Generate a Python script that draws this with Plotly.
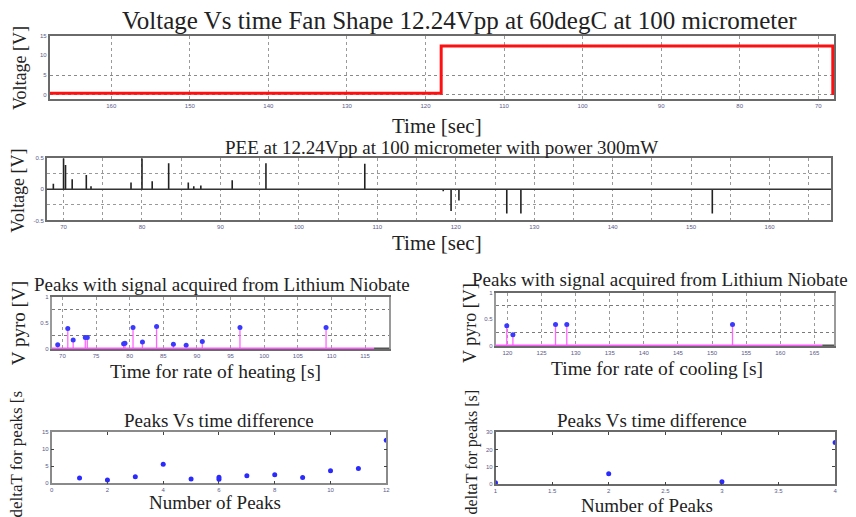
import plotly.graph_objects as go

# ---------------- data ----------------
# Panel 1: step signal (reversed time axis)
step_time = [167.8, 118.0, 118.0, 68.15, 68.15]
step_volt = [0.4, 0.4, 12.4, 12.4, 0.0]

# Panel 2: PEE spikes
pee_time = [68.7, 70.0, 70.25, 71.1, 72.9, 73.5, 78.6, 80.0, 81.3, 83.4, 85.9, 86.6, 87.5,
            91.5, 95.8, 108.4, 118.4, 119.4, 120.4, 126.5, 128.3, 152.7]
pee_volt = [0.09, 0.5, 0.39, 0.16, 0.23, 0.05, 0.11, 0.5, 0.13, 0.42, 0.11, 0.05, 0.06,
            0.145, 0.42, 0.41, -0.03, -0.35, -0.18, -0.39, -0.39, -0.39]

# Panel 3: heating peaks
heat_time = [69.3, 70.8, 71.6, 73.4, 73.7, 79.1, 79.3, 80.5, 81.9, 84.0, 86.5, 88.4, 90.8, 96.4, 109.2]
heat_volt = [0.08, 0.39, 0.17, 0.22, 0.22, 0.10, 0.11, 0.41, 0.13, 0.43, 0.09, 0.07, 0.14, 0.41, 0.41]

# Panel 4: cooling peaks
cool_time = [119.9, 120.8, 127.05, 128.7, 153.0]
cool_volt = [0.38, 0.21, 0.40, 0.40, 0.40]

# Panel 5: heating peaks vs time difference
heat_n = [1, 2, 3, 4, 5, 6, 6, 7, 8, 9, 10, 11, 12]
heat_dt = [1.55, 0.97, 1.94, 5.6, 1.26, 1.2, 1.75, 2.2, 2.5, 1.74, 3.7, 4.35, 12.6]

# Panel 6: cooling peaks vs time difference
cool_n = [1, 2, 3, 4]
cool_dt = [0.9, 6.1, 1.5, 23.9]

# tick labels
p1_ticks = [160, 150, 140, 130, 120, 110, 100, 90, 80, 70]
p2_ticks = [70, 80, 90, 100, 110, 120, 130, 140, 150, 160]
p3_ticks = [70, 75, 80, 85, 90, 95, 100, 105, 110, 115]
p4_ticks = [120, 125, 130, 135, 140, 145, 150, 155, 160, 165]
p6_ticks = [1, 1.5, 2, 2.5, 3, 3.5, 4]

# ---------------- figure ----------------
W, H = 856, 517
SERIF = "Liberation Serif"
TICKFONT = dict(family="Liberation Sans", size=6, color="#5a5a8a")
TXT = "#222222"

def dx(p):
    return p / W

def dy(p):
    return 1 - p / H

fig = go.Figure()

# panel 1
fig.add_trace(go.Scatter(x=step_time, y=step_volt, mode="lines",
                         line=dict(color="#ff1010", width=3), xaxis="x", yaxis="y"))

# panel 2 spikes
sx, sy = [], []
for t, v in zip(pee_time, pee_volt):
    sx += [t, t, None]
    sy += [0, v, None]
fig.add_trace(go.Scatter(x=sx, y=sy, mode="lines", line=dict(color="#222222", width=1.6),
                         xaxis="x2", yaxis="y2"))

# panel 3 stems
hx, hy = [], []
for t, v in zip(heat_time, heat_volt):
    hx += [t, t, None]
    hy += [0, v, None]
fig.add_trace(go.Scatter(x=hx, y=hy, mode="lines", line=dict(color="#ff66ff", width=1.3),
                         xaxis="x3", yaxis="y3"))
fig.add_trace(go.Scatter(x=heat_time, y=heat_volt, mode="markers",
                         marker=dict(color="#3a3aff", size=5), xaxis="x3", yaxis="y3"))

# panel 4 stems
cx, cy = [], []
for t, v in zip(cool_time, cool_volt):
    cx += [t, t, None]
    cy += [0, v, None]
fig.add_trace(go.Scatter(x=cx, y=cy, mode="lines", line=dict(color="#ff66ff", width=1.3),
                         xaxis="x4", yaxis="y4"))
fig.add_trace(go.Scatter(x=cool_time, y=cool_volt, mode="markers",
                         marker=dict(color="#3a3aff", size=5), xaxis="x4", yaxis="y4"))

# panel 5 and 6
fig.add_trace(go.Scatter(x=heat_n, y=heat_dt, mode="markers",
                         marker=dict(color="#2a2aff", size=5), xaxis="x5", yaxis="y5"))
fig.add_trace(go.Scatter(x=cool_n, y=cool_dt, mode="markers",
                         marker=dict(color="#2a2aff", size=5), xaxis="x6", yaxis="y6"))

grid = dict(showgrid=True, gridcolor="#9a9a9a", griddash="dot", gridwidth=1)
frame = dict(showline=True, linecolor="#6a6a6a", linewidth=1.5, mirror=True,
             ticks="", tickfont=TICKFONT, zeroline=False)

layout = dict(
    width=W, height=H, margin=dict(l=0, r=0, t=0, b=0),
    paper_bgcolor="white", plot_bgcolor="white", showlegend=False,
    # panel 1
    xaxis=dict(domain=[dx(48), dx(838)], anchor="y", range=[167.84, 67.98],
               tickvals=p1_ticks, ticktext=[str(v) for v in p1_ticks], **grid, **frame),
    yaxis=dict(domain=[dy(97), dy(33)], anchor="x", range=[-1, 15], tickvals=[0, 5, 10, 15],
               showgrid=False,
               minor=dict(tickvals=[0, 5], showgrid=True, gridcolor="#8a8a8a", griddash="dot"),
               **frame),
    # panel 2
    xaxis2=dict(domain=[dx(45), dx(835)], anchor="y2", range=[67.85, 167.85],
                tickvals=p2_ticks, ticktext=[str(v) for v in p2_ticks], **grid, **frame,
                minor=dict(dtick=5, showgrid=True, gridcolor="#9a9a9a", griddash="dot")),
    yaxis2=dict(domain=[dy(220), dy(157)], anchor="x2", range=[-0.5, 0.5],
                tickvals=[-0.5, 0, 0.5], ticktext=["-0.5", "0", "0.5"], showgrid=False,
                minor=dict(tickvals=[-0.25, 0.25], showgrid=True, gridcolor="#9a9a9a", griddash="dot"),
                showline=True, linecolor="#6a6a6a", linewidth=1.5, mirror=True,
                tickfont=TICKFONT),
    # panel 3
    xaxis3=dict(domain=[dx(50), dx(390)], anchor="y3", range=[68.4, 118.6],
                tickvals=p3_ticks, ticktext=[str(v) for v in p3_ticks], **grid, **frame),
    yaxis3=dict(domain=[dy(350), dy(297)], anchor="x3", range=[0, 1],
                tickvals=[0, 0.5, 1], ticktext=["0", "0.5", "1"], showgrid=False,
                minor=dict(tickvals=[0.25, 0.75], showgrid=True, gridcolor="#7a7a7a", griddash="dot"),
                showline=True, linecolor="#9a9a9a", linewidth=1.5, mirror=True,
                tickfont=TICKFONT, zeroline=False),
    # panel 4
    xaxis4=dict(domain=[dx(497), dx(838)], anchor="y4", range=[118.25, 167.9],
                tickvals=p4_ticks, ticktext=[str(v) for v in p4_ticks], **grid, **frame),
    yaxis4=dict(domain=[dy(347), dy(293)], anchor="x4", range=[0, 1],
                tickvals=[0, 0.5, 1], ticktext=["0", "0.5", "1"], showgrid=False,
                minor=dict(tickvals=[0.25, 0.75], showgrid=True, gridcolor="#7a7a7a", griddash="dot"),
                showline=True, linecolor="#9a9a9a", linewidth=1.5, mirror=True,
                tickfont=TICKFONT, zeroline=False),
    # panel 5
    xaxis5=dict(domain=[dx(50), dx(387)], anchor="y5", range=[0, 12], tickvals=list(range(0, 13, 2)),
                showgrid=False, showline=True, linecolor="#8a8a8a", linewidth=1.5, mirror="ticks",
                ticks="inside", ticklen=3, tickcolor="#444", tickfont=TICKFONT, zeroline=False),
    yaxis5=dict(domain=[dy(486), dy(434)], anchor="x5", range=[0, 15], tickvals=[0, 5, 10, 15],
                showgrid=False, showline=True, linecolor="#8a8a8a", linewidth=1.5, mirror="ticks",
                ticks="inside", ticklen=3, tickcolor="#444", tickfont=TICKFONT, zeroline=False),
    # panel 6
    xaxis6=dict(domain=[dx(497), dx(839)], anchor="y6", range=[1, 4], tickvals=p6_ticks,
                ticktext=[str(v) for v in p6_ticks],
                showgrid=False, showline=True, linecolor="#6a6a6a", linewidth=1.5, mirror="ticks",
                ticks="inside", ticklen=3, tickcolor="#444", tickfont=TICKFONT, zeroline=False),
    yaxis6=dict(domain=[dy(487), dy(434)], anchor="x6", range=[0, 30], tickvals=[0, 10, 20, 30],
                showgrid=False, showline=True, linecolor="#6a6a6a", linewidth=1.5, mirror="ticks",
                ticks="inside", ticklen=3, tickcolor="#444", tickfont=TICKFONT, zeroline=False),
)
fig.update_layout(**layout)

# baseline at zero for panel 2 and magenta baselines for panels 3/4
shapes = [
    dict(type="line", xref="x2 domain", yref="y2", x0=0, x1=1, y0=0, y1=0,
         line=dict(color="#333333", width=1.5)),
    dict(type="line", xref="x3 domain", yref="y3", x0=0, x1=0.955, y0=0, y1=0,
         line=dict(color="#ff55ff", width=3)),
    dict(type="line", xref="x3 domain", yref="y3", x0=0.955, x1=1, y0=0, y1=0,
         line=dict(color="#555555", width=3)),
    dict(type="line", xref="x4 domain", yref="y4", x0=0, x1=0.965, y0=0, y1=0,
         line=dict(color="#ff55ff", width=3)),
    dict(type="line", xref="x4 domain", yref="y4", x0=0.965, x1=1, y0=0, y1=0,
         line=dict(color="#555555", width=3)),
]
fig.update_layout(shapes=shapes)

def ann(text, x, y, size, angle=0):
    return dict(text=text, x=dx(x), y=dy(y), xref="paper", yref="paper", showarrow=False,
                font=dict(family=SERIF, size=size, color=TXT), textangle=angle,
                xanchor="center", yanchor="middle")

annotations = [
    ann("Voltage Vs time Fan Shape 12.24Vpp at 60degC at 100 micrometer", 461, 18, 25),
    ann("Voltage [V]", 18, 66, 18, -90),
    ann("Time [sec]", 438, 124, 21),
    ann("PEE at 12.24Vpp at 100 micrometer with power 300mW", 443, 146, 19),
    ann("Voltage [V]", 16, 190, 18, -90),
    ann("Time [sec]", 438, 243, 21),
    ann("Peaks with signal acquired from Lithium Niobate", 222, 285, 19),
    ann("V pyro [V]", 16, 324, 19, -90),
    ann("Time for rate of heating [s]", 215, 373, 19.5),
    ann("Peaks with signal acquired from Lithium Niobate", 663, 280, 19),
    ann("V pyro [V]", 472, 324, 18, -90),
    ann("Time for rate of cooling [s]", 660, 370, 19.5),
    ann("Peaks Vs time difference", 219, 422, 19),
    ann("deltaT for peaks [s", 15, 456, 17, -90),
    ann("Number of Peaks", 215, 505, 19),
    ann("Peaks Vs time difference", 655, 422, 19),
    ann("deltaT for peaks [s]", 473, 454, 16, -90),
    ann("Number of Peaks", 650, 508, 19),
]
fig.update_layout(annotations=annotations)

fig.write_html("out.html")
